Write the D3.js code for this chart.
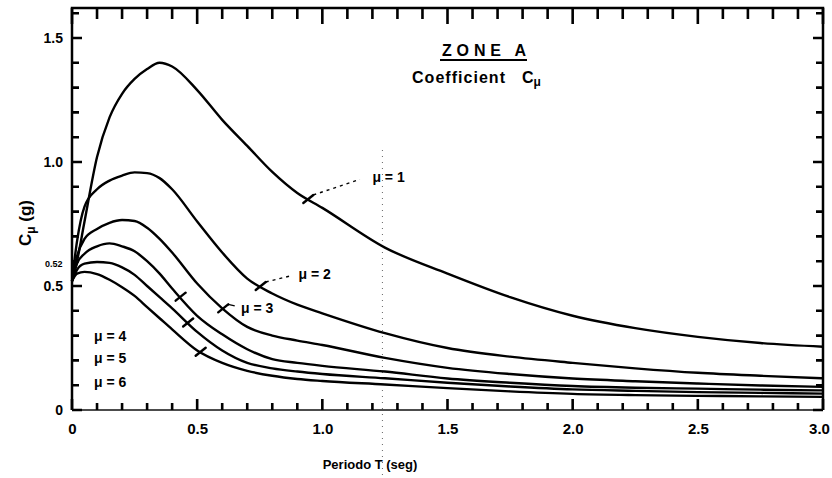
<!DOCTYPE html>
<html>
<head>
<meta charset="utf-8">
<script src="https://cdn.jsdelivr.net/npm/d3@7"></script>
<style>
  body { margin: 0; background: #fff; }
  svg { display: block; font-family: "Liberation Sans", Arial, sans-serif; }
  .tick text { font-weight: bold; fill: #000; }
</style>
</head>
<body>
<div id="wrapper"></div>
<script>
// Periodo T (seg)
var periods = [0, 0.02, 0.05, 0.1, 0.15, 0.2, 0.25, 0.3, 0.35, 0.4, 0.5, 0.6, 0.7, 0.8, 0.9, 1.0, 1.25, 1.5, 1.75, 2.0, 2.25, 2.5, 2.75, 3.0];

// Cu (g) for each ductility mu
var mu1 = [0.52, 0.6, 0.76, 1.02, 1.18, 1.275, 1.335, 1.375, 1.40, 1.385, 1.29, 1.17, 1.065, 0.96, 0.875, 0.815, 0.655, 0.55, 0.455, 0.38, 0.33, 0.295, 0.27, 0.255];
var mu2 = [0.52, 0.68, 0.82, 0.89, 0.925, 0.945, 0.958, 0.955, 0.935, 0.89, 0.76, 0.635, 0.53, 0.47, 0.425, 0.39, 0.31, 0.25, 0.215, 0.19, 0.168, 0.15, 0.138, 0.128];
var mu3 = [0.52, 0.62, 0.69, 0.73, 0.755, 0.766, 0.762, 0.735, 0.69, 0.635, 0.51, 0.41, 0.335, 0.30, 0.28, 0.262, 0.21, 0.17, 0.145, 0.127, 0.116, 0.107, 0.099, 0.093];
var mu4 = [0.52, 0.59, 0.63, 0.66, 0.672, 0.66, 0.64, 0.60, 0.55, 0.49, 0.38, 0.305, 0.245, 0.205, 0.19, 0.178, 0.155, 0.127, 0.11, 0.097, 0.09, 0.086, 0.082, 0.079];
var mu5 = [0.52, 0.565, 0.59, 0.597, 0.593, 0.575, 0.545, 0.50, 0.455, 0.41, 0.315, 0.24, 0.19, 0.168, 0.155, 0.145, 0.128, 0.11, 0.095, 0.083, 0.077, 0.072, 0.069, 0.066];
var mu6 = [0.52, 0.55, 0.557, 0.548, 0.525, 0.495, 0.46, 0.415, 0.37, 0.325, 0.24, 0.19, 0.158, 0.138, 0.125, 0.117, 0.103, 0.088, 0.075, 0.065, 0.06, 0.057, 0.055, 0.053];

var curveNames = ["μ = 1", "μ = 2", "μ = 3", "μ = 4", "μ = 5", "μ = 6"];

var xTicks = [0, 0.5, 1, 1.5, 2, 2.5, 3];
var xTickLabels = ["0", "0.5", "1.0", "1.5", "2.0", "2.5", "3.0"];
var yTicks = [0, 0.5, 1, 1.5];
var yTickLabels = ["0", "0.5", "1.0", "1.5"];

var width = 832, height = 478;

var x = d3.scaleLinear().domain([0, 3]).range([72, 823]);
var y = d3.scaleLinear().domain([0, 1.621]).range([410, 8]);
var top_ = y.range()[1];

var svg = d3.select("#wrapper").append("svg")
  .attr("width", width)
  .attr("height", height);

// fold line from the scan
svg.append("line")
  .attr("x1", x(1.24)).attr("x2", x(1.24))
  .attr("y1", 150).attr("y2", 476)
  .attr("stroke", "#666").attr("stroke-width", 1)
  .attr("stroke-dasharray", "1,5");

// frame
svg.append("path")
  .attr("d", "M" + x(0) + "," + y(0) + "V" + top_ + "H" + x(3) + "V" + y(0))
  .attr("fill", "none").attr("stroke", "#000").attr("stroke-width", 2.5);
svg.append("line")
  .attr("x1", x(0)).attr("x2", x(3)).attr("y1", y(0)).attr("y2", y(0))
  .attr("stroke", "#111").attr("stroke-width", 1.6);

// ticks all round, pointing inwards, drawn as one path
var minorX = x.ticks(30);
var minorY = y.ticks(16).filter(function (d) { return d <= 1.6; });
var isMajor = function (d) { return Math.abs(d * 2 - Math.round(d * 2)) < 1e-6; };

var tp = d3.path();
minorX.forEach(function (d) {
  var big = isMajor(d);
  tp.moveTo(x(d), y(0)); tp.lineTo(x(d), y(0) - (big ? 11 : 7));
  tp.moveTo(x(d), top_); tp.lineTo(x(d), top_ + (big ? 16 : 11));
});
minorY.forEach(function (d) {
  var big = isMajor(d);
  tp.moveTo(x(0), y(d)); tp.lineTo(x(0) + (big ? 10 : 7), y(d));
  tp.moveTo(x(3), y(d)); tp.lineTo(x(3) - (big ? 10 : 7), y(d));
});
svg.append("path")
  .attr("d", tp.toString())
  .attr("fill", "none")
  .attr("stroke", "#000")
  .attr("stroke-width", 2.6);

// tick labels
svg.append("g").attr("transform", "translate(0," + y(0) + ")")
  .call(d3.axisBottom(x).tickValues(xTicks).tickSize(0).tickPadding(13)
    .tickFormat(function (d, i) { return xTickLabels[i]; }))
  .call(function (g) { g.select(".domain").remove(); })
  .selectAll("text").style("font-size", "15px")
  .attr("dx", function (d) { return d === 3 ? -4 : 0; });

svg.append("g").attr("transform", "translate(" + x(0) + ",0)")
  .call(d3.axisLeft(y).tickValues(yTicks).tickSize(0).tickPadding(9)
    .tickFormat(function (d, i) { return yTickLabels[i]; }))
  .call(function (g) { g.select(".domain").remove(); })
  .selectAll("text").style("font-size", "14px");

// curves
var series = [mu1, mu2, mu3, mu4, mu5, mu6];
var line = d3.line()
  .x(function (d, i) { return x(periods[i]); })
  .y(function (d) { return y(d); })
  .curve(d3.curveMonotoneX);

svg.selectAll("path.curve")
  .data(series)
  .enter().append("path")
  .attr("class", "curve")
  .attr("d", line)
  .attr("fill", "none")
  .attr("stroke", "#000")
  .attr("stroke-width", 2.4)
  .attr("stroke-linejoin", "round");

var valueAt = function (s, t) {
  var i = d3.bisectLeft(periods, t);
  if (i <= 0) return s[0];
  var t0 = periods[i - 1], t1 = periods[i];
  return s[i - 1] + (s[i] - s[i - 1]) * (t - t0) / (t1 - t0);
};

// curve labels: where the leader touches the curve, where the text sits
var notes = [
  { s: 0, t: 0.94, lx: 1.15, ly: 0.93, tx: 1.2, ty: 0.92, dashed: true },
  { s: 1, t: 0.75, lx: 0.87, ly: 0.54, tx: 0.905, ty: 0.53, dashed: true },
  { s: 2, t: 0.60, lx: 0.65, ly: 0.42, tx: 0.675, ty: 0.39, dashed: false },
  { s: 3, t: 0.43, tx: 0.088, ty: 0.28 },
  { s: 4, t: 0.46, tx: 0.088, ty: 0.19 },
  { s: 5, t: 0.51, tx: 0.088, ty: 0.093 }
];

notes.forEach(function (n) {
  var cx = x(n.t), cy = y(valueAt(series[n.s], n.t));
  // small stroke across the curve
  svg.append("line")
    .attr("x1", cx - 4).attr("y1", cy + 4)
    .attr("x2", cx + 6).attr("y2", cy - 4)
    .attr("stroke", "#000").attr("stroke-width", 2.4)
    .attr("stroke-linecap", "round");
  if (n.lx !== undefined) {
    svg.append("line")
      .attr("x1", cx + 6).attr("y1", cy - 4)
      .attr("x2", x(n.lx)).attr("y2", y(n.ly))
      .attr("stroke", "#000").attr("stroke-width", 1.4)
      .attr("stroke-dasharray", n.dashed ? "3,4" : null);
  }
  svg.append("text")
    .attr("x", x(n.tx)).attr("y", y(n.ty))
    .style("font-size", "14px").style("font-weight", "bold")
    .text(curveNames[n.s]);
});

// 0.52 mark where the curves meet
svg.append("text")
  .attr("x", 45).attr("y", y(0.575))
  .style("font-size", "9px").style("font-weight", "bold")
  .text("0.52");

// title
svg.append("text")
  .attr("x", 442).attr("y", 56)
  .attr("textLength", 84)
  .style("font-size", "16px").style("font-weight", "bold")
  .text("ZONE A");
svg.append("line")
  .attr("x1", 440).attr("x2", 527).attr("y1", 60).attr("y2", 60)
  .attr("stroke", "#000").attr("stroke-width", 2);

svg.append("text")
  .attr("x", 412).attr("y", 83)
  .attr("textLength", 93)
  .style("font-size", "16px").style("font-weight", "bold")
  .text("Coefficient");
var sub = svg.append("text")
  .attr("x", 522).attr("y", 83)
  .style("font-size", "16px").style("font-weight", "bold")
  .text("C");
sub.append("tspan").attr("dy", 3).style("font-size", "12px").text("μ");

// axis titles
var yt = svg.append("text")
  .attr("transform", "translate(31,223) rotate(-90)")
  .attr("text-anchor", "middle")
  .style("font-size", "17px").style("font-weight", "bold")
  .text("C");
yt.append("tspan").attr("dy", 4).style("font-size", "12px").text("μ");
yt.append("tspan").attr("dy", -4).text(" (g)");

svg.append("text")
  .attr("x", 370).attr("y", 469)
  .attr("text-anchor", "middle")
  .style("font-size", "13px").style("font-weight", "bold")
  .text("Periodo T (seg)");
</script>
</body>
</html>
